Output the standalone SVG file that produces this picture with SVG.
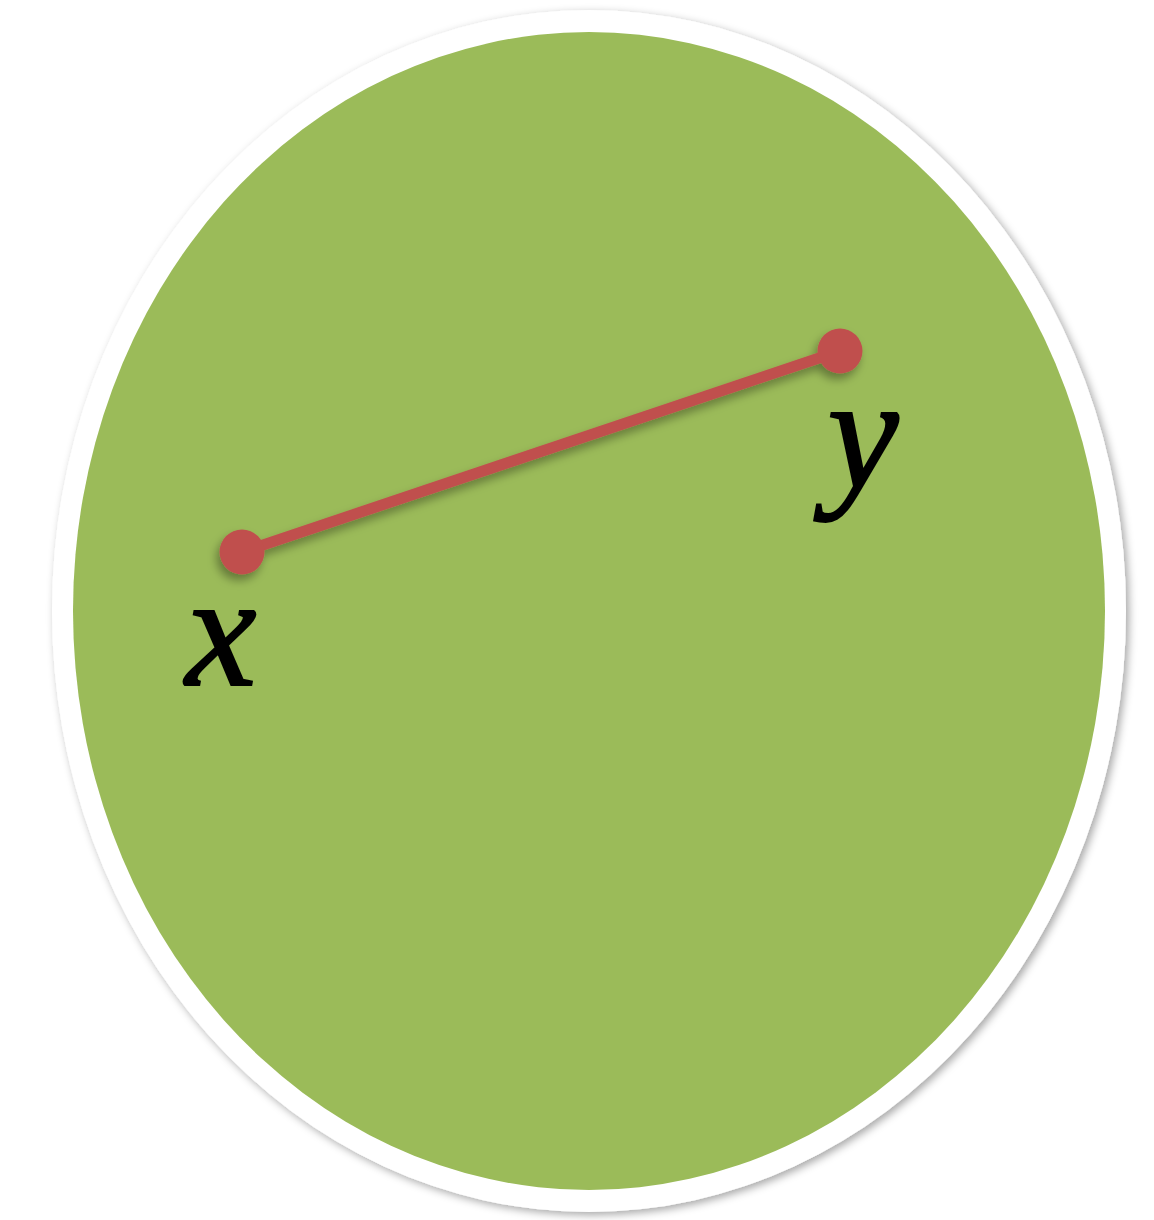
<svg xmlns="http://www.w3.org/2000/svg" width="1154" height="1220" viewBox="0 0 1154 1220">
  <defs>
    <filter id="shadowBig" x="-10%" y="-10%" width="120%" height="120%">
      <feGaussianBlur in="SourceAlpha" stdDeviation="4"/>
      <feOffset dx="3" dy="3" result="b"/>
      <feFlood flood-color="#000" flood-opacity="0.35"/>
      <feComposite in2="b" operator="in"/>
      <feMerge><feMergeNode/><feMergeNode in="SourceGraphic"/></feMerge>
    </filter>
    <filter id="shadowSmall" x="-20%" y="-50%" width="140%" height="200%">
      <feGaussianBlur in="SourceAlpha" stdDeviation="5"/>
      <feOffset dx="-3" dy="6" result="b"/>
      <feFlood flood-color="#000" flood-opacity="0.35"/>
      <feComposite in2="b" operator="in"/>
      <feMerge><feMergeNode/><feMergeNode in="SourceGraphic"/></feMerge>
    </filter>
    <style>
      .lbl { font-family: "Liberation Serif", "DejaVu Serif", serif; font-style: italic; font-size: 160px; fill: #000; stroke: #000; stroke-width: 2; text-anchor: middle; }
      .pt { fill: #C0504D; }
    </style>
  </defs>
  <rect width="1154" height="1220" fill="#fff"/>
  <g id="region">
    <ellipse cx="589" cy="611" rx="537" ry="601" fill="#fff" filter="url(#shadowBig)"/>
    <ellipse cx="589" cy="611" rx="516" ry="579" fill="#9BBB59"/>
  </g>
  <g id="connectors" filter="url(#shadowSmall)">
    <line x1="242" y1="552" x2="840" y2="351" stroke="#C0504D" stroke-width="11"/>
    <circle class="pt" cx="242" cy="552" r="22.5"/>
    <circle class="pt" cx="840" cy="351" r="22.5"/>
  </g>
  <g id="node-x">
    <text class="lbl" x="221" y="685">x</text>
  </g>
  <g id="node-y">
    <text class="lbl" x="863" y="488">y</text>
  </g>
</svg>
